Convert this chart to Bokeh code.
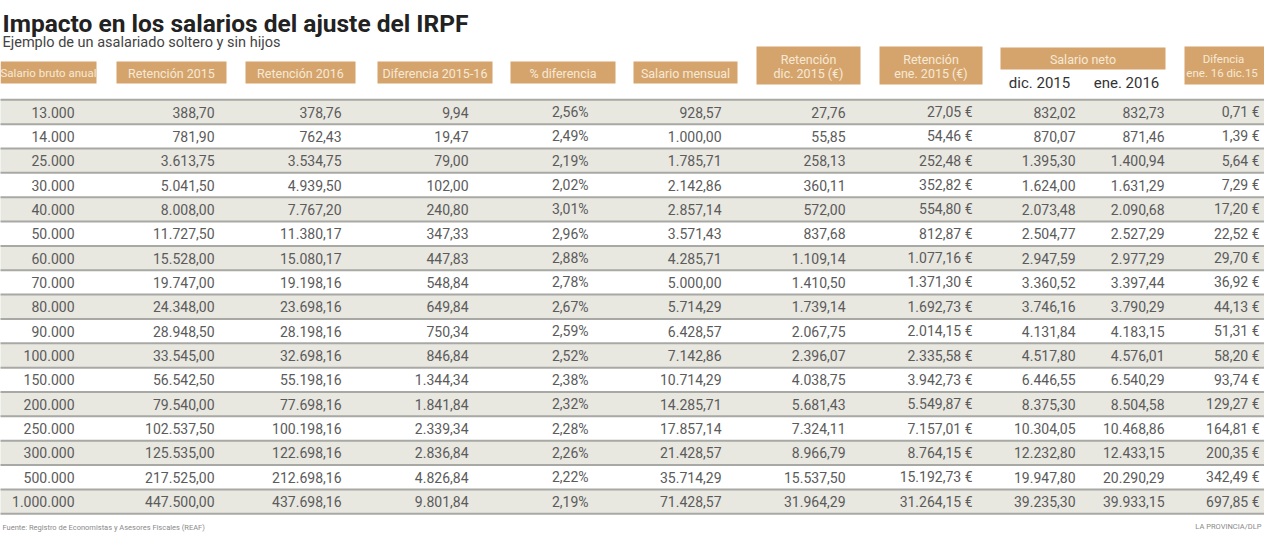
from bokeh.plotting import figure
from bokeh.models import ColumnDataSource, Range1d
from bokeh.core.properties import value
from bokeh.embed import file_html
from bokeh.resources import INLINE

# ---------------- data ----------------
bruto = [13000, 14000, 25000, 30000, 40000, 50000, 60000, 70000, 80000, 90000,
         100000, 150000, 200000, 250000, 300000, 500000, 1000000]
ret2015 = [388.70, 781.90, 3613.75, 5041.50, 8008.00, 11727.50, 15528.00, 19747.00,
           24348.00, 28948.50, 33545.00, 56542.50, 79540.00, 102537.50, 125535.00,
           217525.00, 447500.00]
ret2016 = [378.76, 762.43, 3534.75, 4939.50, 7767.20, 11380.17, 15080.17, 19198.16,
           23698.16, 28198.16, 32698.16, 55198.16, 77698.16, 100198.16, 122698.16,
           212698.16, 437698.16]
dif = [9.94, 19.47, 79.00, 102.00, 240.80, 347.33, 447.83, 548.84, 649.84, 750.34,
       846.84, 1344.34, 1841.84, 2339.34, 2836.84, 4826.84, 9801.84]
pct = [2.56, 2.49, 2.19, 2.02, 3.01, 2.96, 2.88, 2.78, 2.67, 2.59, 2.52, 2.38, 2.32,
       2.28, 2.26, 2.22, 2.19]
mensual = [928.57, 1000.00, 1785.71, 2142.86, 2857.14, 3571.43, 4285.71, 5000.00,
           5714.29, 6428.57, 7142.86, 10714.29, 14285.71, 17857.14, 21428.57,
           35714.29, 71428.57]
ret_dic = [27.76, 55.85, 258.13, 360.11, 572.00, 837.68, 1109.14, 1410.50, 1739.14,
           2067.75, 2396.07, 4038.75, 5681.43, 7324.11, 8966.79, 15537.50, 31964.29]
ret_ene = [27.05, 54.46, 252.48, 352.82, 554.80, 812.87, 1077.16, 1371.30, 1692.73,
           2014.15, 2335.58, 3942.73, 5549.87, 7157.01, 8764.15, 15192.73, 31264.15]
neto_dic = [832.02, 870.07, 1395.30, 1624.00, 2073.48, 2504.77, 2947.59, 3360.52,
            3746.16, 4131.84, 4517.80, 6446.55, 8375.30, 10304.05, 12232.80,
            19947.80, 39235.30]
neto_ene = [832.73, 871.46, 1400.94, 1631.29, 2090.68, 2527.29, 2977.29, 3397.44,
            3790.29, 4183.15, 4576.01, 6540.29, 8504.58, 10468.86, 12433.15,
            20290.29, 39933.15]
dif_neto = [0.71, 1.39, 5.64, 7.29, 17.20, 22.52, 29.70, 36.92, 44.13, 51.31, 58.20,
            93.74, 129.27, 164.81, 200.35, 342.49, 697.85]

headers = ["Salario bruto anual", "Retención 2015", "Retención 2016",
           "Diferencia 2015-16", "% diferencia", "Salario mensual",
           "Retención\ndic. 2015 (€)", "Retención\nene. 2015 (€)", "Salario neto",
           "Difencia\nene. 16  dic.15"]
sub_headers = ["dic. 2015", "ene. 2016"]

title = "Impacto en los salarios del ajuste del IRPF"
subtitle = "Ejemplo de un asalariado soltero y sin hijos"
source_txt = "Fuente: Registro de Economistas y Asesores Fiscales (REAF)"
credit_txt = "LA PROVINCIA/DLP"


def es(v, dec=2):
    s = format(v, ",.%df" % dec)
    return s.replace(",", "X").replace(".", ",").replace("X", ".")


FONT = "Roboto"
W, H = 1264, 532
p = figure(width=W, height=H, output_backend="svg", toolbar_location=None,
           x_range=Range1d(8, 8 + W), y_range=Range1d(8 + H, 8),
           min_border=0)
p.axis.visible = False
p.grid.visible = False
p.outline_line_color = None
p.background_fill_color = "white"

# ---------------- rows ----------------
n = len(bruto)
row_y = [119.5 + 24.35 * i for i in range(n)]
half = 12.2
shade = [i for i in range(n) if i % 2 == 0]
p.quad(left=-20, right=1300,
       top=[row_y[i] - half for i in shade], bottom=[row_y[i] + half for i in shade],
       fill_color="#e8e7e0", line_color=None)
sep_y = [y - half for y in row_y] + [row_y[-1] + half]
p.segment(x0=-20, x1=1300, y0=sep_y, y1=sep_y, line_color="#a8a8a4", line_width=2)

cols = [
    ([es(v, 0) for v in bruto], 82),
    ([es(v) for v in ret2015], 222),
    ([es(v) for v in ret2016], 349),
    ([es(v) for v in dif], 476),
    ([es(v) + "%" for v in pct], 596),
    ([es(v) for v in mensual], 729),
    ([es(v) for v in ret_dic], 853),
    ([es(v) + " €" for v in ret_ene], 980),
    ([es(v) for v in neto_dic], 1083),
    ([es(v) for v in neto_ene], 1172),
    ([es(v) + " €" for v in dif_neto], 1267),
]
for texts, xr in cols:
    src = ColumnDataSource(dict(x=[xr] * n, y=row_y, t=texts))
    p.text(x="x", y="y", text="t", source=src, text_align="right",
           text_baseline="middle", text_font=value(FONT), text_font_size="14px",
           text_color="#5b5b5b")

# ---------------- header boxes ----------------
TAN = "#d5a46c"
boxes = [(8, 104, 69, 91), (124, 234, 69, 91), (253, 363, 69, 91),
         (385, 500, 69, 91), (518, 623, 69, 91), (641, 745, 69, 91),
         (764, 868, 54, 92), (887, 990, 54, 92), (1008, 1173, 55, 77),
         (1192, 1300, 54, 92)]
p.quad(left=[b[0] for b in boxes], right=[b[1] for b in boxes],
       top=[b[2] for b in boxes], bottom=[b[3] for b in boxes],
       fill_color=TAN, line_color=None)
hx = [(b[0] + b[1]) / 2 for b in boxes]
hx[9] = 1231
hy = [(b[2] + b[3]) / 2 + 0.5 for b in boxes]
hsize = ["11.5px"] + ["12.5px"] * 8 + ["11.5px"]
for i, h in enumerate(headers):
    lines = h.split("\n")
    if len(lines) == 1:
        p.text(x=[hx[i]], y=[hy[i]], text=[lines[0]], text_align="center",
               text_baseline="middle", text_font=value(FONT), text_font_size=hsize[i],
               text_color="#f6e9d6")
    else:
        for k, ln in enumerate(lines):
            p.text(x=[hx[i]], y=[hy[i] - 7 + 14 * k], text=[ln], text_align="center",
                   text_baseline="middle", text_font=value(FONT),
                   text_font_size=hsize[i], text_color="#f6e9d6")

p.text(x=[1047, 1134], y=[90, 90], text=sub_headers, text_align="center",
       text_baseline="middle", text_font=value(FONT), text_font_size="15px",
       text_color="#333333")

# ---------------- titles ----------------
p.text(x=[10], y=[31], text=[title], text_align="left", text_baseline="alphabetic",
       text_font=value(FONT), text_font_size="24.5px", text_font_style="bold",
       text_color="#222222")
p.text(x=[10], y=[50], text=[subtitle], text_align="left", text_baseline="alphabetic",
       text_font=value(FONT), text_font_size="14.5px", text_color="#444444")

p.text(x=[10], y=[535], text=[source_txt], text_align="left", text_baseline="middle",
       text_font=value(FONT), text_font_size="7.5px", text_color="#8a8a8a")
p.text(x=[1269], y=[534], text=[credit_txt], text_align="right", text_baseline="middle",
       text_font=value(FONT), text_font_size="7.5px", text_color="#8a8a8a")

open("out.html", "w").write(file_html(p, INLINE))
